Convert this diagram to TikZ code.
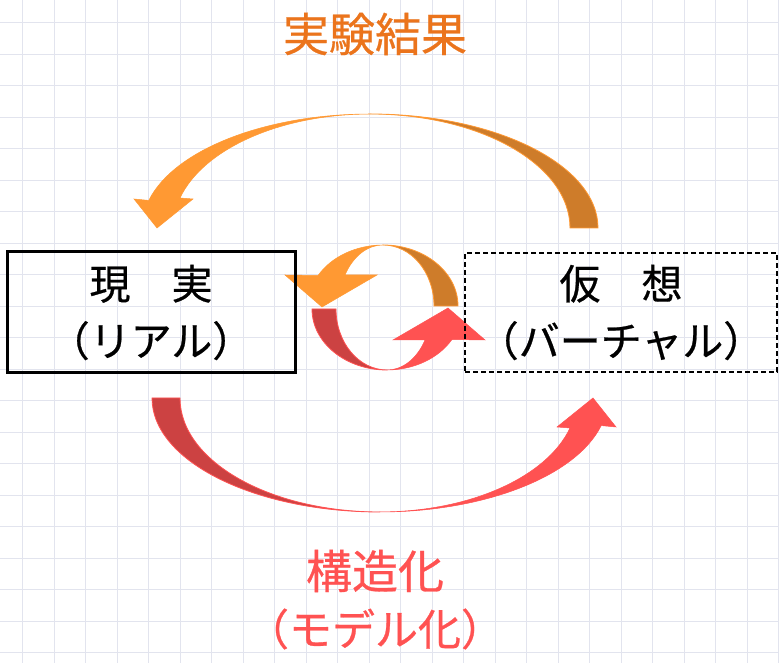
\documentclass[tikz,border=0pt]{standalone}
\usepackage{fontspec}
\setmainfont{Noto Sans CJK JP}
\newfontfamily\medfont{Noto Sans CJK JP}[FakeBold=0.6]
\definecolor{gridc}{RGB}{226,228,238}
\definecolor{orL}{RGB}{255,153,51}
\definecolor{orD}{RGB}{206,124,42}
\definecolor{rdL}{RGB}{255,82,82}
\definecolor{rdD}{RGB}{204,66,66}
\definecolor{titleor}{RGB}{235,116,28}
\definecolor{bottomrd}{RGB}{255,82,82}
\tikzset{
  gridline/.style={draw=gridc, line width=1.2pt},
  realbox/.style={draw=black, line width=3pt, inner sep=0pt, align=center,
    minimum width=288pt, minimum height=121pt,
    font=\medfont\fontsize{41}{57}\selectfont},
  virtbox/.style={draw=black, line width=1.4pt, dash pattern=on 5pt off 3pt,
    inner sep=0pt, align=center, minimum width=312pt, minimum height=119pt,
    font=\medfont\fontsize{41}{57}\selectfont},
  backO/.style={fill=orD, draw=orL, line width=0.8pt},
  frontO/.style={fill=orL, draw=orL, line width=0.5pt},
  backR/.style={fill=rdD, draw=rdL, line width=0.8pt},
  frontR/.style={fill=rdL, draw=rdL, line width=0.5pt},
  bigtitle/.style={text=titleor, font=\medfont\fontsize{46}{50}\selectfont, inner sep=0pt},
  bottomlabel/.style={text=bottomrd, inner sep=0pt}
}
\begin{document}
\begin{tikzpicture}[x=1pt,y=1pt]
\useasboundingbox (0,0) rectangle (779,663);
\fill[white] (0,0) rectangle (779,663);
% grid
\foreach \k in {0,...,24}{\draw[gridline] ({22.7+31.5*\k},0) -- ({22.7+31.5*\k},663);}
\foreach \k in {0,...,20}{\draw[gridline] (0,{663-22.7-31.5*\k}) -- (779,{663-22.7-31.5*\k});}

% big top arrow (orange)
\fill[backO] (598,435) arc[start angle=0,end angle=90,x radius=228,y radius=114]
  arc[start angle=90,end angle=0,x radius=200,y radius=114] -- cycle;
\fill[frontO] (370,549) arc[start angle=90,end angle=166,x radius=228,y radius=114]
  -- (134,464) -- (157,435) -- (193,464) -- (180,465)
  arc[start angle=164.7,end angle=90,x radius=197,y radius=114] -- cycle;

% big bottom arrow (red) = rotated copy
\begin{scope}[rotate around={180:(375,350)}]
\fill[backR] (598,435) arc[start angle=0,end angle=90,x radius=228,y radius=114]
  arc[start angle=90,end angle=0,x radius=200,y radius=114] -- cycle;
\fill[frontR] (370,549) arc[start angle=90,end angle=166,x radius=228,y radius=114]
  -- (134,464) -- (157,435) -- (193,464) -- (180,465)
  arc[start angle=164.7,end angle=90,x radius=197,y radius=114] -- cycle;
\end{scope}

% small orange arrow
\fill[backO] (458,357) arc[start angle=0,end angle=90,x radius=75,y radius=61]
  arc[start angle=90,end angle=0,x radius=51,y radius=61] -- cycle;
\fill[frontO] (383,418) arc[start angle=90,end angle=150,x radius=75,y radius=61]
  -- (285,388) -- (322,356) -- (377,388) -- (345,388)
  arc[start angle=149.5,end angle=90,x radius=44.1,y radius=61] -- cycle;

% small red arrow
\begin{scope}[rotate around={180:(385,355.5)}]
\fill[backR] (458,357) arc[start angle=0,end angle=90,x radius=75,y radius=61]
  arc[start angle=90,end angle=0,x radius=51,y radius=61] -- cycle;
\fill[frontR] (383,418) arc[start angle=90,end angle=150,x radius=75,y radius=61]
  -- (285,388) -- (322,356) -- (377,388) -- (345,388)
  arc[start angle=149.5,end angle=90,x radius=44.1,y radius=61] -- cycle;
\end{scope}

% boxes
\node[realbox] (real) at (151,350.5) {現　実\\（リアル）};
\node[virtbox] (virt) at (621,350.5) {仮　想\\（バーチャル）};

% labels
\node[bigtitle] (result) at (375,629) {実験結果};
\node[bottomlabel, font=\medfont\fontsize{46}{50}\selectfont] (struct) at (375,92) {構造化};
\node[bottomlabel, font=\medfont\fontsize{43}{50}\selectfont] (model) at (375,34) {（モデル化）};
\end{tikzpicture}
\end{document}
